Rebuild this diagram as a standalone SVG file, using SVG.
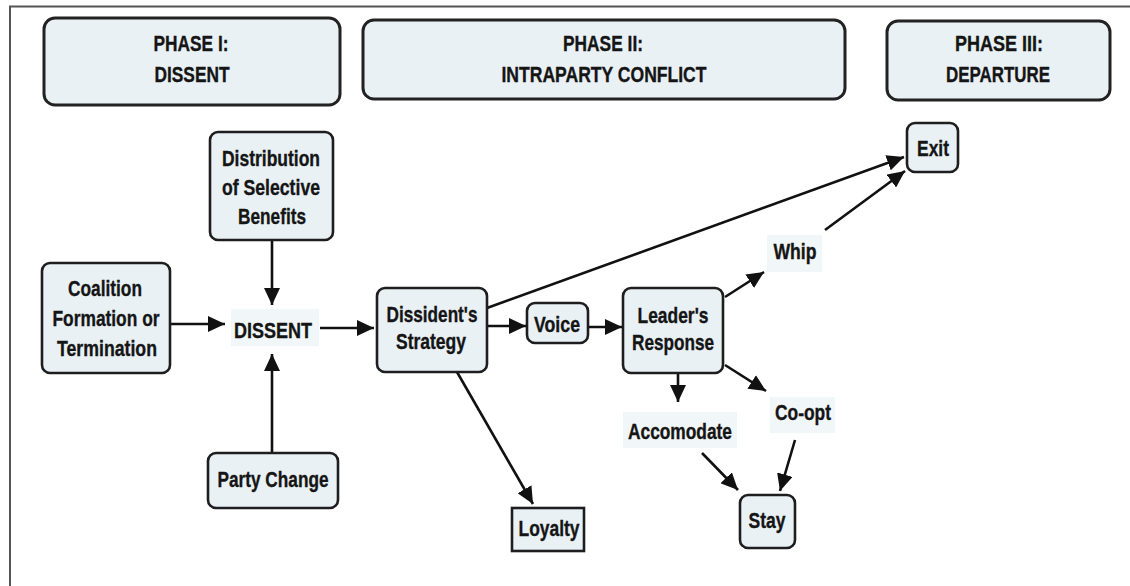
<svg xmlns="http://www.w3.org/2000/svg" width="1130" height="586" viewBox="0 0 1130 586">
<style>
.box{fill:#e9f1f5;stroke:#1e1e1e;stroke-width:2.6}
.hdr{fill:#e9f1f5;stroke:#222;stroke-width:3}
.lbl{fill:#f1f6f8;stroke:none}
text{font-family:"Liberation Sans",Arial,sans-serif;font-weight:bold;fill:#151515;stroke:#151515;stroke-width:0.35;text-anchor:middle;font-size:22px}
.c line{stroke:#111;stroke-width:2.6;marker-end:url(#ah)}
</style>
<defs>
<marker id="ah" markerUnits="userSpaceOnUse" markerWidth="18" markerHeight="16" refX="17" refY="8" orient="auto">
<path d="M0,0 L17,8 L0,16 z" fill="#111"/>
</marker>
</defs>
<rect width="1130" height="586" fill="#fff"/>
<line x1="9" y1="6.5" x2="1130" y2="6.5" stroke="#555" stroke-width="2"/>
<line x1="10" y1="6" x2="10" y2="586" stroke="#555" stroke-width="2"/>

<g id="phase1"><rect class="hdr" x="44" y="18" width="296" height="87" rx="11"/>
<text x="191" y="51" textLength="75" lengthAdjust="spacingAndGlyphs">PHASE I:</text>
<text x="192" y="82" textLength="75" lengthAdjust="spacingAndGlyphs">DISSENT</text></g>
<g id="phase2"><rect class="hdr" x="363" y="20" width="482" height="79" rx="11"/>
<text x="603" y="51" textLength="80" lengthAdjust="spacingAndGlyphs">PHASE II:</text>
<text x="604" y="82" textLength="205" lengthAdjust="spacingAndGlyphs">INTRAPARTY CONFLICT</text></g>
<g id="phase3"><rect class="hdr" x="887" y="21" width="223" height="79" rx="11"/>
<text x="999" y="51" textLength="88" lengthAdjust="spacingAndGlyphs">PHASE III:</text>
<text x="998" y="82" textLength="104" lengthAdjust="spacingAndGlyphs">DEPARTURE</text></g>

<g class="c" id="connectors">
<line x1="272" y1="240" x2="272" y2="305"/>
<line x1="170" y1="324" x2="225" y2="324"/>
<line x1="272" y1="453" x2="272" y2="354"/>
<line x1="320" y1="328" x2="374" y2="328"/>
<line x1="487" y1="326" x2="526" y2="326"/>
<line x1="588" y1="327" x2="622" y2="327"/>
<line x1="487" y1="308" x2="904" y2="157"/>
<line x1="725" y1="297" x2="764" y2="272"/>
<line x1="825" y1="230" x2="905" y2="171"/>
<line x1="725" y1="365" x2="766" y2="391"/>
<line x1="678" y1="373" x2="678" y2="402"/>
<line x1="702" y1="453" x2="738" y2="490"/>
<line x1="795" y1="440" x2="780" y2="491"/>
<line x1="457" y1="372" x2="533" y2="504"/>
</g>

<g id="distribution"><rect class="box" x="210" y="132" width="123" height="108" rx="8"/>
<text x="271" y="166" textLength="98" lengthAdjust="spacingAndGlyphs">Distribution</text>
<text x="271" y="195" textLength="98" lengthAdjust="spacingAndGlyphs">of Selective</text>
<text x="272" y="224" textLength="68" lengthAdjust="spacingAndGlyphs">Benefits</text></g>

<g id="coalition"><rect class="box" x="42" y="263" width="128" height="110" rx="8"/>
<text x="105" y="296" textLength="74" lengthAdjust="spacingAndGlyphs">Coalition</text>
<text x="106" y="326" textLength="107" lengthAdjust="spacingAndGlyphs">Formation or</text>
<text x="107" y="356" textLength="100" lengthAdjust="spacingAndGlyphs">Termination</text></g>

<g id="dissent"><rect class="lbl" x="231" y="309" width="88" height="37"/>
<text x="273" y="338" textLength="78" lengthAdjust="spacingAndGlyphs">DISSENT</text></g>

<g id="party-change"><rect class="box" x="208" y="453" width="130" height="55" rx="8"/>
<text x="273" y="487" textLength="111" lengthAdjust="spacingAndGlyphs">Party Change</text></g>

<g id="strategy"><rect class="box" x="377" y="288" width="110" height="84" rx="8"/>
<text x="432" y="322" textLength="91" lengthAdjust="spacingAndGlyphs">Dissident's</text>
<text x="431" y="349" textLength="70" lengthAdjust="spacingAndGlyphs">Strategy</text></g>

<g id="voice"><rect class="box" x="527" y="303" width="61" height="40" rx="8"/>
<text x="557" y="332" textLength="46" lengthAdjust="spacingAndGlyphs">Voice</text></g>

<g id="leader"><rect class="box" x="623" y="288" width="100" height="85" rx="8"/>
<text x="673" y="323" textLength="71" lengthAdjust="spacingAndGlyphs">Leader's</text>
<text x="673" y="350" textLength="82" lengthAdjust="spacingAndGlyphs">Response</text></g>

<g id="exit"><rect class="box" x="907" y="123" width="51" height="49" rx="8"/>
<text x="933" y="156" textLength="32" lengthAdjust="spacingAndGlyphs">Exit</text></g>

<g id="whip"><rect class="lbl" x="767" y="235" width="55" height="37"/>
<text x="795" y="259" textLength="43" lengthAdjust="spacingAndGlyphs">Whip</text></g>

<g id="coopt"><rect class="lbl" x="770" y="397" width="65" height="36"/>
<text x="803" y="420" textLength="56" lengthAdjust="spacingAndGlyphs">Co-opt</text></g>

<g id="accomodate"><rect class="lbl" x="623" y="412" width="114" height="36"/>
<text x="680" y="439" textLength="104" lengthAdjust="spacingAndGlyphs">Accomodate</text></g>

<g id="stay"><rect class="box" x="740" y="495" width="55" height="53" rx="8"/>
<text x="767" y="528" textLength="37" lengthAdjust="spacingAndGlyphs">Stay</text></g>

<g id="loyalty"><rect class="box" x="512" y="508" width="72" height="43"/>
<text x="549" y="536" textLength="61" lengthAdjust="spacingAndGlyphs">Loyalty</text></g>
</svg>
